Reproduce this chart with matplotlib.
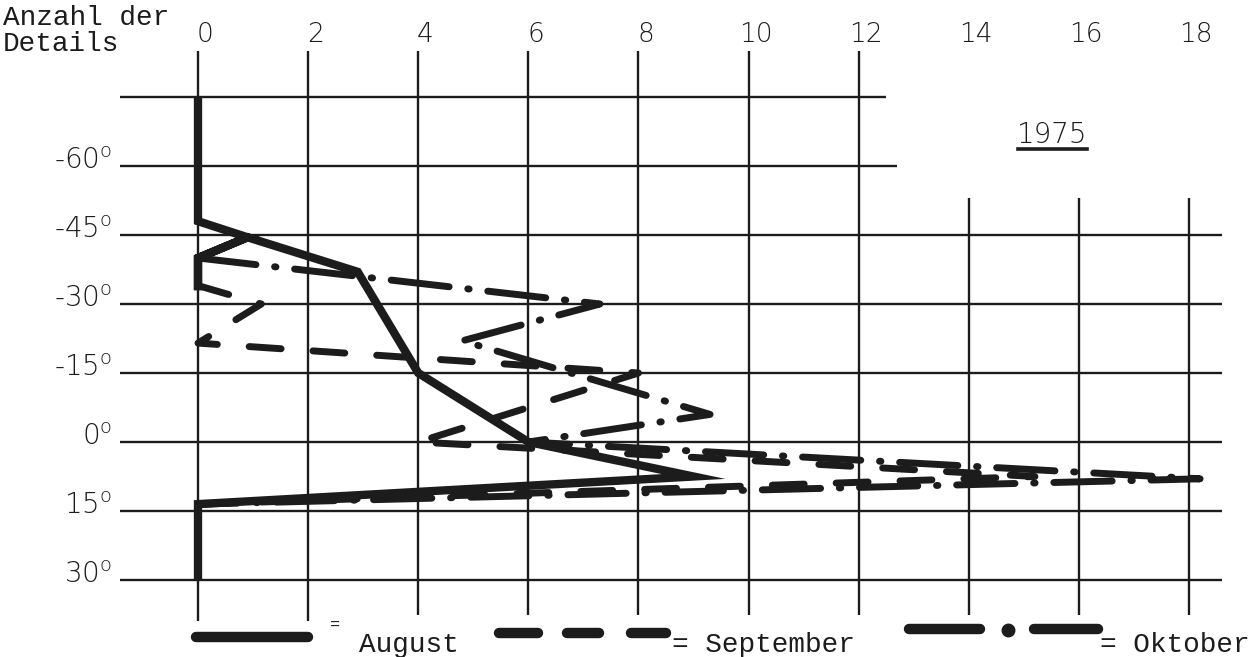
import matplotlib
matplotlib.use("Agg")
import matplotlib.pyplot as plt

# ---------------- data ----------------
count_ticks = [0, 2, 4, 6, 8, 10, 12, 14, 16, 18]
short_count_ticks = [14, 16, 18]          # lines that start lower
lat_ticks = [-60, -45, -30, -15, 0, 15, 30]
lat_tick_labels = ["-60", "-45", "-30", "-15", "0", "15", "30"]
grid_lats = [-75, -60, -45, -30, -15, 0, 15, 30]

aug_count = [0, 0, 0.9, 0, 0, 0, 0.9, 2.9, 4, 6, 9, 0, 0]
aug_lat = [-75, -48, -44.5, -40, -33, -40, -44.5, -37, -15, 0, 7.5, 13.5, 30]

sep_count = [0, 1.15, 0, 8, 4, 15.2, 0]
sep_lat = [-34, -30, -21.5, -15, 0, 7.5, 13.5]

okt_count = [0, 7.3, 4.8, 9.3, 6, 18.2, 0]
okt_lat = [-40, -30, -22, -6, 0, 8, 13.5]

series_names = ["August", "September", "Oktober"]
y_title = "Anzahl der\nDetails"
year_label = "1975"

# ---------------- layout ----------------
W, H = 1254, 657
fig = plt.figure(figsize=(W / 100, H / 100), dpi=100)
fig.patch.set_facecolor("white")

x0_px, px_per_count = 198, 55.06
y0_px, px_per_deg = 442, 4.6

ax = fig.add_axes([0, 0, 1, 1])
ax.set_xlim(-x0_px / px_per_count, (W - x0_px) / px_per_count)
ax.set_ylim((H - y0_px) / px_per_deg, -y0_px / px_per_deg)
ax.axis("off")

ink = "#1c1c1c"
grid_lw = 1.7
mono = ["Liberation Mono", "DejaVu Sans Mono"]
sans = ["DejaVu Sans"]

# horizontal grid lines
x_left = -1.42
for lat in grid_lats:
    if lat == -75:
        x_right = 12.5
    elif lat == -60:
        x_right = 12.7
    else:
        x_right = 18.6
    ax.plot([x_left, x_right], [lat, lat], color=ink, lw=grid_lw,
            solid_capstyle="butt", zorder=1)

# vertical grid lines
for c in count_ticks:
    top = -53 if c in short_count_ticks else -85
    bottom = 39 if c <= 2 else 37.5
    ax.plot([c, c], [top, bottom], color=ink, lw=grid_lw,
            solid_capstyle="butt", zorder=1)

# top count labels
for c in count_ticks:
    ax.text(c + 0.13, -88.5, str(c), ha="center", va="center",
            fontsize=19, family=sans, fontweight="light", color=ink)

# left latitude labels
for lat, lab in zip(lat_ticks, lat_tick_labels):
    ax.text(-1.56, lat - 1.0, lab + r"$^{\mathregular{o}}$", ha="right",
            va="center", fontsize=20, family=sans, fontweight="light",
            color=ink)

# y title
ax.text(-3.55, -95.0, y_title, ha="left", va="top", fontsize=20,
        family=mono, color=ink, linespacing=1.0)

# ---------------- series ----------------
aug_style = dict(color=ink, lw=6, solid_capstyle="butt",
                 solid_joinstyle="miter")
sep_style = dict(color=ink, lw=5, dashes=(4.6, 4.6),
                 dash_capstyle="round", dash_joinstyle="round")
okt_style = dict(color=ink, lw=5, dashes=(8.4, 2.7, 0.2, 2.7),
                 dash_capstyle="round", dash_joinstyle="round")

ax.plot(okt_count, okt_lat, zorder=3, **okt_style)
ax.plot(sep_count, sep_lat, zorder=3, **sep_style)
ax.plot(aug_count, aug_lat, zorder=4, **aug_style)

# ---------------- annotations in pixel space ----------------
ov = fig.add_axes([0, 0, 1, 1], facecolor="none")
ov.set_xlim(0, W)
ov.set_ylim(H, 0)
ov.axis("off")

ov.text(1052, 143, year_label, ha="center", va="baseline", fontsize=20,
        family=sans, fontweight="light", color=ink)
ov.plot([1018, 1087], [149, 149], color=ink, lw=2.6)

# legend
ov.plot([196, 308], [637, 637], color=ink, lw=7.5, solid_capstyle="round")
ov.text(330, 630, "=", ha="left", va="baseline", fontsize=12,
        family=mono, color=ink)
ov.text(359, 652, series_names[0], ha="left", va="baseline", fontsize=20,
        family=mono, color=ink)

for xa, xb in [(499, 538), (567, 599), (631, 666)]:
    ov.plot([xa, xb], [633, 633], color=ink, lw=7.5, solid_capstyle="round")
ov.text(672, 652, "= " + series_names[1], ha="left", va="baseline",
        fontsize=20, family=mono, color=ink)

for xa, xb in [(909, 980), (1034, 1098)]:
    ov.plot([xa, xb], [629, 629], color=ink, lw=7.5, solid_capstyle="round")
ov.plot([1008], [630], marker="o", markersize=9, color=ink, lw=0)
ov.text(1100, 652, "= " + series_names[2], ha="left", va="baseline",
        fontsize=20, family=mono, color=ink)

fig.savefig("out.png", dpi=100, facecolor="white")
